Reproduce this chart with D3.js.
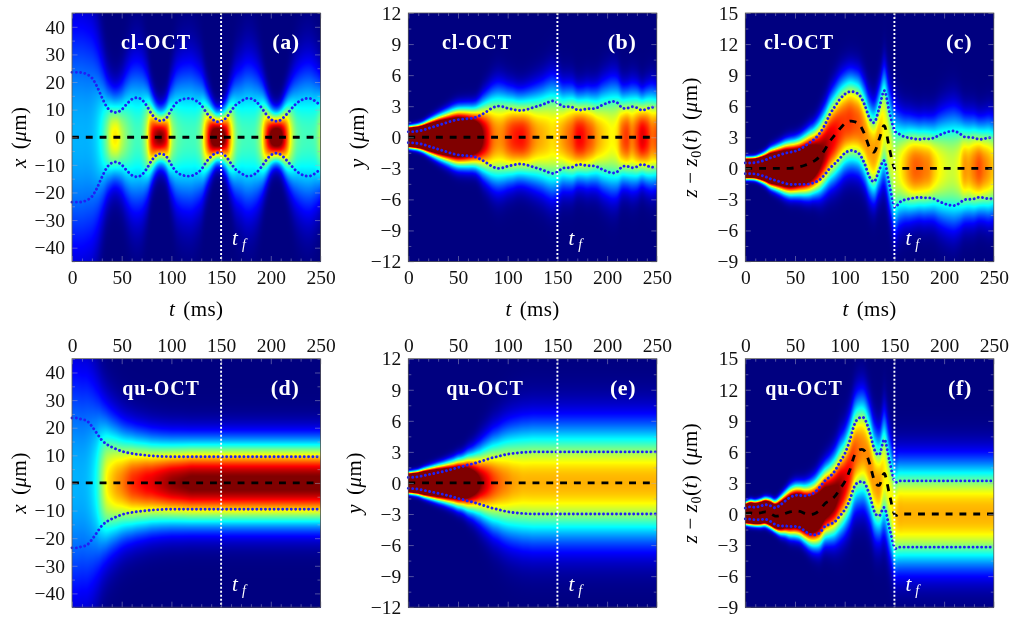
<!DOCTYPE html>
<html>
<head>
<meta charset="utf-8">
<script src="https://cdn.jsdelivr.net/npm/d3@7/dist/d3.min.js"></script>
<style>
  html, body { margin: 0; padding: 0; background: #fff; }
  #wrap { position: relative; width: 1016px; height: 622px; overflow: hidden; }
  canvas, svg { position: absolute; left: 0; top: 0; }
  text { font-family: "Liberation Serif", serif; }
</style>
</head>
<body>
<div id="wrap">
  <canvas id="heat" width="1016" height="622"></canvas>
  <svg id="plot" width="1016" height="622"></svg>
</div>
<script>
// Sampling step of every series below, in ms (51 samples from 0 to 250).
const sampleStep = 5;
const timeTicks = [0, 50, 100, 150, 200, 250];
const finalTime = 150;

// Wave-packet widths (dotted curves), in micrometres.
const widthA = [23.5,23.5,23.4,22.8,21.5,18.5,14.5,11,9.3,9,10,12,13.7,14.3,13.7,11.5,8.5,6.5,6,7,10,12.5,13.6,14,14,13.2,11.7,9,7,5.7,5.8,7,9.5,11.8,13,14,14,13,11,8.5,6.5,5.8,6.3,8,10,12,13.3,14,14,13,11.5];
const widthB = [.52,.55,.6,.7,.85,1,1.15,1.3,1.45,1.6,1.7,1.75,1.8,1.85,2,2.25,2.55,2.85,3,2.95,2.8,2.7,2.6,2.6,2.7,2.85,3,3.15,3.35,3.5,3.35,3,2.95,2.9,2.65,2.65,2.75,2.75,2.85,3.1,3.3,3.45,3.35,2.85,2.8,2.95,2.85,2.6,2.75,2.9,2.8];
const widthC = [.52,.52,.55,.65,.8,1,1.15,1.3,1.45,1.55,1.6,1.7,1.85,2,2.1,2.25,2.4,2.6,2.75,2.85,2.85,2.85,2.85,2.85,2.85,2.85,2.85,3,3.4,3.5,3.7,3.3,3.05,2.95,2.85,2.8,2.85,2.85,2.95,3.2,3.4,3.55,3.6,3.4,3.05,3,2.95,2.8,2.85,2.95,2.9];
const widthD = [23.5,23.5,23,22.5,20.5,18,15.5,14,13,12.2,11.5,11,10.7,10.4,10.2,10,9.8,9.7,9.6,9.55,9.5,9.5,9.5,9.5,9.5,9.5,9.5,9.5,9.5,9.5,9.5,9.5,9.5,9.5,9.5,9.5,9.5,9.5,9.5,9.5,9.5,9.5,9.5,9.5,9.5,9.5,9.5,9.5,9.5,9.5,9.5];
const widthE = [.52,.55,.6,.7,.8,.9,1,1.1,1.22,1.35,1.5,1.6,1.75,1.85,2,2.15,2.3,2.45,2.55,2.68,2.78,2.85,2.9,2.95,2.97,3,3,3,3,3,3,3,3,3,3,3,3,3,3,3,3,3,3,3,3,3,3,3,3,3,3];
const widthF = [.52,.6,.6,.65,.7,.75,.8,1,1.2,1.4,1.5,1.55,1.7,1.9,2.05,2.2,2.2,2.3,2.45,2.6,2.7,2.85,3,3.1,3.1,3.05,3,2.95,3.3,3.25,3.2,3.2,3.2,3.2,3.2,3.2,3.2,3.2,3.2,3.2,3.2,3.2,3.2,3.2,3.2,3.2,3.2,3.2,3.2,3.2,3.2];

// Peak colour level of the density at each sample; above 1 the colour map saturates.
const peakA = [.3,.3,.3,.3,.31,.34,.4,.5,.62,.64,.56,.5,.46,.44,.46,.58,.85,.98,1,.88,.58,.48,.45,.44,.44,.45,.52,.75,1,1.1,1.08,.95,.68,.5,.45,.44,.44,.46,.56,.8,1.02,1.1,1.05,.85,.62,.49,.45,.44,.44,.46,.54];
const peakB = [2.9,2.9,2.8,2.6,2.35,2.15,2,1.85,1.72,1.62,1.56,1.48,1.38,1.28,1.14,1,.88,.78,.74,.75,.8,.84,.86,.86,.82,.76,.72,.7,.68,.66,.68,.72,.76,.8,.87,.87,.82,.78,.72,.68,.65,.63,.66,.78,.82,.76,.82,.9,.86,.78,.8];
const peakC = [2.9,2.9,2.8,2.6,2.35,2.15,1.95,1.8,1.7,1.62,1.56,1.45,1.35,1.25,1.15,1.05,.98,.92,.88,.84,.82,.82,.8,.78,.74,.72,.72,.7,.62,.6,.58,.62,.68,.74,.78,.78,.76,.74,.68,.63,.6,.58,.58,.62,.72,.72,.76,.8,.76,.72,.68];
const peakD = [.3,.3,.3,.31,.34,.4,.52,.63,.68,.72,.75,.79,.83,.85,.87,.89,.9,.92,.94,.96,.98,.99,1,1.01,1.02,1.02,1.02,1.02,1.02,1.02,1.02,1.02,1.02,1.02,1.02,1.02,1.02,1.02,1.02,1.02,1.02,1.02,1.02,1.02,1.02,1.02,1.02,1.02,1.02,1.02,1.02];
const peakE = [2.9,2.9,2.8,2.6,2.35,2.15,2,1.85,1.7,1.55,1.45,1.35,1.25,1.15,1.05,.96,.89,.83,.79,.76,.74,.72,.71,.7,.7,.7,.7,.7,.7,.7,.7,.7,.7,.7,.7,.7,.7,.7,.7,.7,.7,.7,.7,.7,.7,.7,.7,.7,.7,.7,.7];
const peakF = [2.9,2.7,2.7,2.5,2.35,2.25,2.1,1.85,1.65,1.55,1.5,1.5,1.4,1.3,1.25,1.2,1.15,1.1,1.05,.99,.92,.86,.8,.76,.74,.74,.72,.72,.64,.62,.66,.7,.7,.7,.7,.7,.7,.7,.7,.7,.7,.7,.7,.7,.7,.7,.7,.7,.7,.7,.7];

// Packet centres (dashed curves), in micrometres.
const centreFlat = [0,0,0,0,0,0,0,0,0,0,0,0,0,0,0,0,0,0,0,0,0,0,0,0,0,0,0,0,0,0,0,0,0,0,0,0,0,0,0,0,0,0,0,0,0,0,0,0,0,0,0];
const centreC = [0,0,0,0,0,0,0,0,0,0,.05,.15,.3,.5,.75,1.15,1.8,2.6,3.2,3.8,4.3,4.55,4.5,4.2,3.3,2,1.6,2.9,4.1,1.9,0,0,0,0,0,0,0,0,0,0,0,0,0,0,0,0,0,0,0,0,0];
const centreF = [.05,.1,.05,.1,.2,.05,-.2,-.15,.05,.2,.3,.25,.05,-.05,.05,.4,1,1.3,1.7,2.4,3.1,4.2,5.7,6.2,6.1,4.9,3.2,2.8,3.9,1.9,0,0,0,0,0,0,0,0,0,0,0,0,0,0,0,0,0,0,0,0,0];

// Axis tick labels.
const ticksX = [-40,-30,-20,-10,0,10,20,30,40];
const ticksY = [-12,-9,-6,-3,0,3,6,9,12];
const ticksZ = [-9,-6,-3,0,3,6,9,12,15];

// Transverse profile shape of each panel: base scale, extra spread when dilute, power.
const shapeWide = [1.07, 0.35, 2.2];
const shapeFlat = [1.1, 0, 2.6];
const shapeSoft = [1.07, 0.7, 2.2];
const shapeTight = [1.1, 0.1, 2.4];

const panels = [
  {tag:"(a)", method:"cl-OCT", width:widthA, peak:peakA, centre:centreFlat, shape:shapeWide,  ticks:ticksX, domain:[-45,45], minor:5,   ylabel:"x", col:0, row:0, methodX:156, tagX:286, labelX:20},
  {tag:"(b)", method:"cl-OCT", width:widthB, peak:peakB, centre:centreFlat, shape:shapeFlat,  ticks:ticksY, domain:[-12,12], minor:1.5, ylabel:"y", col:1, row:0, methodX:477, tagX:622, labelX:358},
  {tag:"(c)", method:"cl-OCT", width:widthC, peak:peakC, centre:centreC,    shape:shapeFlat,  ticks:ticksZ, domain:[-9,15],  minor:1.5, ylabel:"z", col:2, row:0, methodX:799, tagX:959, labelX:691},
  {tag:"(d)", method:"qu-OCT", width:widthD, peak:peakD, centre:centreFlat, shape:shapeWide,  ticks:ticksX, domain:[-45,45], minor:5,   ylabel:"x", col:0, row:1, methodX:161, tagX:285, labelX:20},
  {tag:"(e)", method:"qu-OCT", width:widthE, peak:peakE, centre:centreFlat, shape:shapeSoft,  ticks:ticksY, domain:[-12,12], minor:1.5, ylabel:"y", col:1, row:1, methodX:485, tagX:623, labelX:355},
  {tag:"(f)", method:"qu-OCT", width:widthF, peak:peakF, centre:centreF,    shape:shapeTight, ticks:ticksZ, domain:[-9,15],  minor:1.5, ylabel:"z", col:2, row:1, methodX:804, tagX:960, labelX:691}
];

// Frame geometry of the 2x3 grid.
const colLeft = [72, 408.3, 745.3];
const rowTop = [13, 358.7];
const frame = 248.5;

// The jet colour map, tabulated for fast pixel lookup.
const jet = d3.scaleLinear()
  .domain([0, 1/8, 3/8, 5/8, 7/8, 1])
  .range(["#000080", "#0000ff", "#00ffff", "#ffff00", "#ff0000", "#800000"])
  .interpolate(d3.interpolateRgb)
  .clamp(true);
const jetTable = d3.range(1025).map(i => d3.rgb(jet(i / 1024)));

// Uniform Catmull-Rom evaluation so the field follows the same curve as the drawn lines.
function sampleAt(series, t) {
  const u = t / sampleStep;
  const i = Math.min(series.length - 2, Math.floor(u));
  const f = u - i;
  const p0 = series[Math.max(0, i - 1)], p1 = series[i], p2 = series[i + 1], p3 = series[Math.min(series.length - 1, i + 2)];
  return 0.5 * (2 * p1 + (p2 - p0) * f + (2 * p0 - 5 * p1 + 4 * p2 - p3) * f * f + (3 * p1 - p0 - 3 * p2 + p3) * f * f * f);
}

// Above saturation the profile flattens; below it the tails follow the panel's spread.
const profileScale = (a, shape) => a < 1 ? shape[0] + shape[1] * (1 - a) : shape[0] + 0.12 * (a - 1);
const profilePower = (a, shape) => a < 1 ? shape[2] : Math.min(3, shape[2] + 2 * (a - 1));

const fmt = d => d < 0 ? "\u2212" + (-d) : String(d);
const ctx = document.getElementById("heat").getContext("2d");
const svg = d3.select("#plot");

panels.forEach(p => {
  const left = colLeft[p.col], top = rowTop[p.row];
  const x = d3.scaleLinear().domain([0, 250]).range([left, left + frame]);
  const y = d3.scaleLinear().domain(p.domain).range([top + frame, top]);

  // Density field: one image pixel per screen pixel, located through the scales.
  const x0 = Math.round(left), y0 = Math.round(top), n = Math.round(frame);
  const img = ctx.createImageData(n, n);
  for (let i = 0; i < n; i++) {
    const t = Math.min(250, Math.max(0, x.invert(x0 + i + 0.5)));
    const w = sampleAt(p.width, t), a = sampleAt(p.peak, t), c = sampleAt(p.centre, t);
    const s = profileScale(a, p.shape) * w, q = profilePower(a, p.shape);
    for (let j = 0; j < n; j++) {
      const v = y.invert(y0 + j + 0.5);
      const level = a * Math.exp(-0.5 * Math.pow(Math.abs(v - c) / s, q));
      const col = jetTable[Math.max(0, Math.min(1024, Math.round(level * 1024)))];
      const k = (j * n + i) * 4;
      img.data[k] = col.r; img.data[k + 1] = col.g; img.data[k + 2] = col.b; img.data[k + 3] = 255;
    }
  }
  ctx.putImageData(img, x0, y0);

  const g = svg.append("g");
  const times = p.width.map((_, i) => i * sampleStep);
  const line = d3.line().curve(d3.curveCatmullRom.alpha(0));

  // Dotted width curves either side of the centre.
  [1, -1].forEach(sign => {
    g.append("path")
      .attr("d", line(times.map((t, i) => [x(t), y(p.centre[i] + sign * p.width[i])])))
      .attr("fill", "none").attr("stroke", "#2020f5").attr("stroke-width", 2.9)
      .attr("stroke-linecap", "round").attr("stroke-dasharray", "0.01 4.3");
  });

  // Dashed centre curve.
  g.append("path")
    .attr("d", line(times.map((t, i) => [x(t), y(p.centre[i])])))
    .attr("fill", "none").attr("stroke", "#000").attr("stroke-width", 2.8)
    .attr("stroke-dasharray", "6.9 6.9");

  // Final-time marker.
  g.append("line")
    .attr("x1", x(finalTime)).attr("x2", x(finalTime))
    .attr("y1", top).attr("y2", top + frame)
    .attr("stroke", "#fff").attr("stroke-width", 1.9).attr("stroke-dasharray", "2 2");

  // Inward ticks on all four sides, labels on the outer side only.
  const minorT = d3.range(0, 251, 10).filter(t => !timeTicks.includes(t));
  const minorV = d3.range(p.domain[0], p.domain[1] + 1e-6, p.minor).filter(v => !p.ticks.includes(v));
  const tickStyle = sel => {
    sel.select(".domain").remove();
    sel.selectAll("line").attr("stroke", "#a9a9c4").attr("stroke-opacity", 0.6).attr("stroke-width", 0.8);
    sel.selectAll("text").attr("font-size", 19.5).attr("fill", "#111").attr("font-family", "Liberation Serif");
  };
  const none = () => "";
  const axisSet = [
    [d3.axisBottom(x).tickValues(timeTicks).tickSize(-5.5).tickFormat(p.row === 0 ? d3.format("d") : none).tickPadding(9), top + frame],
    [d3.axisTop(x).tickValues(timeTicks).tickSize(-5.5).tickFormat(p.row === 1 ? d3.format("d") : none).tickPadding(7), top],
    [d3.axisBottom(x).tickValues(minorT).tickSize(-3).tickFormat(none), top + frame],
    [d3.axisTop(x).tickValues(minorT).tickSize(-3).tickFormat(none), top]
  ];
  axisSet.forEach(([axis, ty]) => g.append("g").attr("transform", `translate(0,${ty})`).call(axis).call(tickStyle));
  const axisSetY = [
    [d3.axisLeft(y).tickValues(p.ticks).tickSize(-5.5).tickFormat(fmt).tickPadding(7), left],
    [d3.axisRight(y).tickValues(p.ticks).tickSize(-5.5).tickFormat(none), left + frame],
    [d3.axisLeft(y).tickValues(minorV).tickSize(-3).tickFormat(none), left],
    [d3.axisRight(y).tickValues(minorV).tickSize(-3).tickFormat(none), left + frame]
  ];
  axisSetY.forEach(([axis, tx]) => g.append("g").attr("transform", `translate(${tx},0)`).call(axis).call(tickStyle));

  // Frame.
  g.append("rect").attr("x", left).attr("y", top).attr("width", frame).attr("height", frame)
    .attr("fill", "none").attr("stroke", "#555").attr("stroke-width", 0.8);

  // Method name and panel tag.
  const midY = top + 36;
  g.append("text").attr("x", p.methodX).attr("y", midY).attr("text-anchor", "middle")
    .attr("font-size", 20).attr("font-weight", "bold").attr("letter-spacing", 0.9).attr("fill", "#fff").text(p.method);
  g.append("text").attr("x", p.tagX).attr("y", midY).attr("text-anchor", "middle")
    .attr("font-size", 22).attr("font-weight", "bold").attr("fill", "#fff").attr("letter-spacing", 0.6).text(p.tag);

  // Final-time label.
  const tf = g.append("text").attr("x", x(finalTime) + 11).attr("y", top + 232).attr("fill", "#fff").attr("font-size", 21);
  tf.append("tspan").attr("font-style", "italic").text("t");
  tf.append("tspan").attr("font-style", "italic").attr("font-size", 14).attr("dx", 4).attr("dy", 4).text("f");

  // Time axis title, only below the upper row.
  if (p.row === 0) {
    const xl = g.append("text").attr("x", left + frame / 2).attr("y", 316).attr("text-anchor", "middle")
      .attr("font-size", 21).attr("letter-spacing", 0.4);
    xl.append("tspan").attr("font-style", "italic").text("t");
    xl.append("tspan").attr("dx", 8).text("(ms)");
  }

  // Vertical axis title.
  const cy = top + frame / 2;
  const yl = g.append("text").attr("transform", `translate(${p.labelX + 6},${cy}) rotate(-90)`)
    .attr("text-anchor", "middle").attr("font-size", 21).attr("letter-spacing", 0.5);
  const it = s => yl.append("tspan").attr("font-style", "italic").text(s);
  it(p.ylabel);
  if (p.ylabel === "z") {
    yl.append("tspan").attr("dx", 5).text("\u2212");
    it("z").attr("dx", 5);
    yl.append("tspan").attr("font-size", 14).attr("dy", 4).text("0");
    yl.append("tspan").attr("dy", -4).text("(");
    it("t");
    yl.append("tspan").text(")");
  }
  yl.append("tspan").attr("dx", 9).text("(");
  it("\u03bc");
  yl.append("tspan").text("m)");
});
</script>
</body>
</html>
